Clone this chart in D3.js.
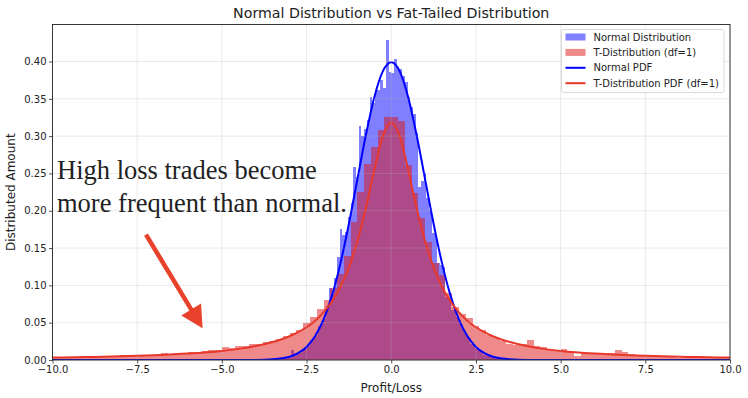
<!DOCTYPE html>
<html>
<head>
<meta charset="utf-8">
<script src="https://cdn.jsdelivr.net/npm/d3@7"></script>
<style>
  body { margin: 0; background: #fff; }
  text { font-family: "DejaVu Sans", sans-serif; fill: #222; }
</style>
</head>
<body>
<svg id="chart" width="748" height="398"></svg>
<script>
// histogram of the t-distribution samples (df=1), bins of 0.2 from -10 to 10
const tBinStart = -10, tBinWidth = 0.2;
const tHist = [
  0.003, 0.003, 0.004, 0.003, 0.004, 0.004, 0.004, 0.005, 0.004, 0.005,
  0.007, 0.005, 0.006, 0.006, 0.007, 0.007, 0.010, 0.008, 0.009, 0.010,
  0.011, 0.010, 0.012, 0.013, 0.013, 0.017, 0.016, 0.019, 0.019, 0.022,
  0.022, 0.024, 0.026, 0.028, 0.032, 0.036, 0.040, 0.050, 0.058, 0.068,
  0.080, 0.096, 0.115, 0.140, 0.185, 0.225, 0.262, 0.286, 0.308, 0.326,
  0.326, 0.320, 0.261, 0.224, 0.190, 0.158, 0.130, 0.114, 0.090, 0.071,
  0.062, 0.056, 0.045, 0.040, 0.034, 0.030, 0.026, 0.022, 0.020, 0.021,
  0.027, 0.019, 0.018, 0.015, 0.014, 0.015, 0.012, 0.006, 0.009, 0.008,
  0.009, 0.008, 0.009, 0.014, 0.011, 0.008, 0.007, 0.006, 0.007, 0.006,
  0.006, 0.005, 0.003, 0.005, 0.004, 0.005, 0.004, 0.004, 0.003, 0.004
];

// histogram of the normal samples, bins of 0.08 from -3.6 to 3.6
const normBinStart = -3.6, normBinWidth = 0.08;
const normHist = [
  0.000, 0.001, 0.000, 0.001, 0.003, 0.001, 0.004, 0.003, 0.013, 0.006,
  0.010, 0.009, 0.015, 0.018, 0.019, 0.027, 0.030, 0.034, 0.045, 0.052,
  0.055, 0.072, 0.096, 0.088, 0.110, 0.138, 0.175, 0.168, 0.172, 0.192,
  0.210, 0.259, 0.245, 0.313, 0.300, 0.310, 0.322, 0.353, 0.345, 0.362,
  0.362, 0.375, 0.365, 0.429, 0.386,
  0.385, 0.404, 0.392, 0.390, 0.380, 0.373, 0.353, 0.339, 0.330, 0.304,
  0.232, 0.240, 0.250, 0.217, 0.201, 0.170, 0.165, 0.130, 0.127, 0.125,
  0.085, 0.080, 0.067, 0.070, 0.057, 0.050, 0.043, 0.036, 0.031, 0.022,
  0.022, 0.015, 0.014, 0.012, 0.007, 0.006, 0.007, 0.004, 0.003, 0.002,
  0.003, 0.001, 0.001, 0.000, 0.001
];

// density curves read along the x axis
const pdfX = [-10, -9, -8, -7, -6, -5, -4.5, -4, -3.5, -3, -2.75, -2.5, -2.25, -2, -1.75, -1.5, -1.25, -1, -0.75, -0.5, -0.25,
  0, 0.25, 0.5, 0.75, 1, 1.25, 1.5, 1.75, 2, 2.25, 2.5, 2.75, 3, 3.5, 4, 4.5, 5, 6, 7, 8, 9, 10];
const normalPdf = [0, 0, 0, 0, 0, 0, 0, 0.0001, 0.0009, 0.0044, 0.0091, 0.0175, 0.0317, 0.0540, 0.0863, 0.1295, 0.1826, 0.2420, 0.3011, 0.3521, 0.3867,
  0.3989, 0.3867, 0.3521, 0.3011, 0.2420, 0.1826, 0.1295, 0.0863, 0.0540, 0.0317, 0.0175, 0.0091, 0.0044, 0.0009, 0.0001, 0, 0, 0, 0, 0, 0, 0];
const tPdf = [0.0032, 0.0039, 0.0049, 0.0064, 0.0086, 0.0122, 0.0149, 0.0187, 0.0241, 0.0318, 0.0373, 0.0439, 0.0523, 0.0637, 0.0785, 0.0979, 0.1242, 0.1592, 0.2037, 0.2546, 0.2996,
  0.3183, 0.2996, 0.2546, 0.2037, 0.1592, 0.1242, 0.0979, 0.0785, 0.0637, 0.0523, 0.0439, 0.0373, 0.0318, 0.0241, 0.0187, 0.0149, 0.0122, 0.0086, 0.0064, 0.0049, 0.0039, 0.0032];

const xTicks = [-10, -7.5, -5, -2.5, 0, 2.5, 5, 7.5, 10];
const yTicks = [0, 0.05, 0.10, 0.15, 0.20, 0.25, 0.30, 0.35, 0.40];

const legendItems = [
  {label: "Normal Distribution", kind: "patch", color: "#0000ff"},
  {label: "T-Distribution (df=1)", kind: "patch", color: "#e01515"},
  {label: "Normal PDF", kind: "line", color: "#0000ff"},
  {label: "T-Distribution PDF (df=1)", kind: "line", color: "#e8382b"}
];

// annotation arrow in data units: from (x, y) to the tip
const arrowFrom = [-7.24, 0.168];
const arrowTo = [-5.57, 0.0425];

const W = 748, H = 398;
const plot = {left: 52.5, right: 730, top: 24.5, bottom: 360};

const svg = d3.select("#chart");

const x = d3.scaleLinear().domain([-10, 10]).range([plot.left, plot.right]);
const y = d3.scaleLinear().domain([0, 0.4496]).range([plot.bottom, plot.top]);

svg.append("defs").append("clipPath").attr("id", "clip")
  .append("rect")
  .attr("x", plot.left).attr("y", plot.top)
  .attr("width", plot.right - plot.left).attr("height", plot.bottom - plot.top);

const body = svg.append("g").attr("clip-path", "url(#clip)");

// draws one histogram
function drawHist(values, start, width, color) {
  body.append("g")
    .attr("shape-rendering", "crispEdges")
    .selectAll("rect")
    .data(values)
    .enter().append("rect")
    .attr("x", (d, i) => x(start + i * width))
    .attr("width", (d, i) => x(start + (i + 1) * width) - x(start + i * width))
    .attr("y", d => y(d))
    .attr("height", d => y(0) - y(d))
    .attr("fill", color)
    .attr("fill-opacity", 0.5);
}

drawHist(normHist, normBinStart, normBinWidth, "#0000ff");
drawHist(tHist, tBinStart, tBinWidth, "#e01515");

// grid
const grid = svg.append("g").attr("stroke", "#b0b0b0").attr("stroke-opacity", 0.35).attr("stroke-width", 0.8);
grid.selectAll(".gx").data(xTicks).enter().append("line")
  .attr("x1", d => x(d)).attr("x2", d => x(d))
  .attr("y1", plot.top).attr("y2", plot.bottom);
grid.selectAll(".gy").data(yTicks).enter().append("line")
  .attr("x1", plot.left).attr("x2", plot.right)
  .attr("y1", d => y(d)).attr("y2", d => y(d));

// pdf lines
function drawLine(values, color) {
  const line = d3.line()
    .x((d, i) => x(pdfX[i]))
    .y(d => y(d))
    .curve(d3.curveMonotoneX);
  body.append("path")
    .datum(values)
    .attr("d", line)
    .attr("fill", "none")
    .attr("stroke", color)
    .attr("stroke-width", 2)
    .attr("stroke-linejoin", "round");
}
drawLine(normalPdf, "#0000ff");
drawLine(tPdf, "#e8382b");

// axes
const fmtX = d => d3.format(".1f")(d).replace("-", "\u2212");
const xAxis = svg.append("g")
  .attr("transform", "translate(0," + plot.bottom + ")")
  .call(d3.axisBottom(x).tickValues(xTicks).tickFormat(fmtX).tickSize(3.5).tickPadding(2.5));
const yAxis = svg.append("g")
  .attr("transform", "translate(" + plot.left + ",0)")
  .call(d3.axisLeft(y).tickValues(yTicks).tickFormat(d3.format(".2f")).tickSize(3.5).tickPadding(2.5));
[xAxis, yAxis].forEach(a => {
  a.select(".domain").remove();
  a.selectAll("text").style("font-size", "10px").style("font-family", "DejaVu Sans").attr("fill", "#222");
  a.selectAll("line").attr("stroke", "#222").attr("stroke-width", 0.8);
});

// frame
svg.append("rect")
  .attr("x", plot.left).attr("y", plot.top)
  .attr("width", plot.right - plot.left).attr("height", plot.bottom - plot.top)
  .attr("fill", "none").attr("stroke", "#222").attr("stroke-width", 0.9);

// labels
svg.append("text")
  .attr("x", (plot.left + plot.right) / 2).attr("y", 18)
  .attr("text-anchor", "middle").style("font-size", "14.2px")
  .text("Normal Distribution vs Fat-Tailed Distribution");
svg.append("text")
  .attr("x", (plot.left + plot.right) / 2).attr("y", 392)
  .attr("text-anchor", "middle").style("font-size", "12px")
  .text("Profit/Loss");
svg.append("text")
  .attr("transform", "translate(15," + (plot.top + plot.bottom) / 2 + ") rotate(-90)")
  .attr("text-anchor", "middle").style("font-size", "12px")
  .text("Distributed Amount");

// legend
const lg = svg.append("g").attr("transform", "translate(561.5,29.5)");
lg.append("rect")
  .attr("width", 162.5).attr("height", 63).attr("rx", 2)
  .attr("fill", "#fff").attr("fill-opacity", 0.8)
  .attr("stroke", "#d0d0d0").attr("stroke-width", 0.8);
legendItems.forEach((d, i) => {
  const cy = 7.5 + i * 15.4;
  if (d.kind === "patch") {
    lg.append("rect").attr("x", 4).attr("y", cy - 3.5).attr("width", 20).attr("height", 7)
      .attr("fill", d.color).attr("fill-opacity", 0.5);
  } else {
    lg.append("line").attr("x1", 4).attr("x2", 24).attr("y1", cy).attr("y2", cy)
      .attr("stroke", d.color).attr("stroke-width", 2);
  }
  lg.append("text").attr("x", 32).attr("y", cy).attr("dy", "0.35em")
    .style("font-size", "10px").text(d.label);
});

// annotation
const note = svg.append("text")
  .style("font-family", "'Liberation Serif', 'Times New Roman', serif")
  .style("font-size", "26.5px").attr("fill", "#000");
note.append("tspan").attr("x", 57).attr("y", 179).text("High loss trades become");
note.append("tspan").attr("x", 57).attr("y", 212).text("more frequent than normal.");

const ax0 = x(arrowFrom[0]), ay0 = y(arrowFrom[1]);
const ax1 = x(arrowTo[0]), ay1 = y(arrowTo[1]);
const len = Math.hypot(ax1 - ax0, ay1 - ay0);
const ux = (ax1 - ax0) / len, uy = (ay1 - ay0) / len;
const headLen = 22, headHalf = 11.5;
const bx = ax1 - ux * headLen, by = ay1 - uy * headLen;
svg.append("line")
  .attr("x1", ax0).attr("y1", ay0).attr("x2", bx + ux * 2).attr("y2", by + uy * 2)
  .attr("stroke", "#e8412c").attr("stroke-width", 4.5);
svg.append("path")
  .attr("d", "M" + ax1 + "," + ay1 +
    "L" + (bx - uy * headHalf) + "," + (by + ux * headHalf) +
    "L" + (bx + uy * headHalf) + "," + (by - ux * headHalf) + "Z")
  .attr("fill", "#e8412c");
</script>
</body>
</html>
